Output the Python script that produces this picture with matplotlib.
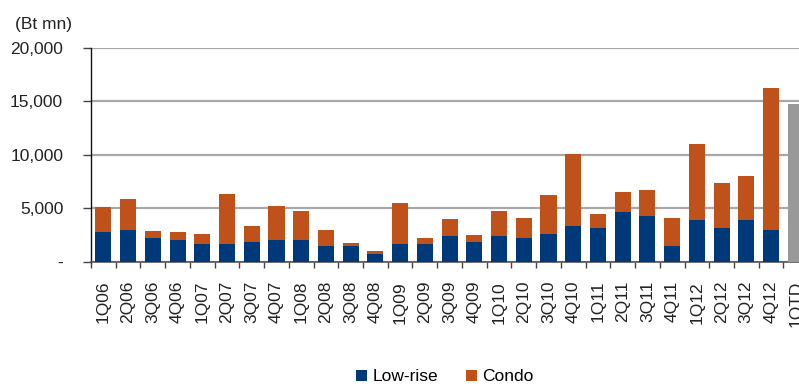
import matplotlib
matplotlib.use("Agg")
import matplotlib.pyplot as plt
from matplotlib.ticker import FuncFormatter, FixedLocator
import numpy as np

plt.rcParams['font.family'] = ['Liberation Sans', 'DejaVu Sans']

quarters = ["1Q06", "2Q06", "3Q06", "4Q06", "1Q07", "2Q07", "3Q07", "4Q07",
            "1Q08", "2Q08", "3Q08", "4Q08", "1Q09", "2Q09", "3Q09", "4Q09",
            "1Q10", "2Q10", "3Q10", "4Q10", "1Q11", "2Q11", "3Q11", "4Q11",
            "1Q12", "2Q12", "3Q12", "4Q12"]
lowrise = [2770, 2960, 2210, 2030, 1650, 1650, 1840, 2030,
           2030, 1470, 1470, 720, 1650, 1650, 2400, 1840,
           2400, 2210, 2590, 3340, 3150, 4650, 4270, 1470,
           3900, 3150, 3900, 2960]
condo = [2310, 2870, 660, 740, 910, 4680, 1460, 3150,
         2710, 1490, 240, 280, 3840, 560, 1590, 650,
         2340, 1870, 3640, 6730, 1310, 1870, 2430, 2610,
         7100, 4210, 4110, 13280]
qtd_label = ["1QTD"]
qtd_total = [14750]

BLUE = "#00397A"
ORANGE = "#BF521A"
GRAY = "#999999"

fig = plt.figure(figsize=(7.99, 3.86), dpi=100)
ax = fig.add_axes([91 / 799, 1 - 261.5 / 386, 708 / 799, 213.8 / 386])

x = np.arange(len(quarters))
w = 0.65
ax.bar(x, lowrise, width=w, color=BLUE, label="Low-rise", zorder=3)
ax.bar(x, condo, width=w, bottom=lowrise, color=ORANGE, label="Condo", zorder=3)
xq = np.arange(len(quarters), len(quarters) + len(qtd_total))
ax.bar(xq, qtd_total, width=w, color=GRAY, zorder=3)

labels = quarters + qtd_label
ax.set_xlim(-0.5, -0.5 + 708 / 24.73)
ax.set_ylim(0, 20000)

ax.set_xticks(np.arange(len(labels)))
ax.set_xticklabels(labels, rotation=90, fontsize=12.5, color="#222222")
ax.tick_params(axis="x", which="major", length=0, pad=14)
ax.xaxis.set_minor_locator(FixedLocator(np.arange(len(labels)) - 0.5))
ax.tick_params(axis="x", which="minor", length=4, width=1, color="#444444", direction="out")

ax.set_yticks([0, 5000, 10000, 15000, 20000])
ax.yaxis.set_major_formatter(FuncFormatter(lambda v, p: "-" if v == 0 else f"{int(v):,}"))
ax.tick_params(axis="y", length=6, width=1, color="#444444", pad=14, labelsize=12.5,
               labelcolor="#222222")
ax.grid(axis="y", color="#A8A8A8", linewidth=1.6, zorder=0)

for s in ["top", "right"]:
    ax.spines[s].set_visible(False)
ax.spines["left"].set_color("#111111")
ax.spines["bottom"].set_color("#555555")
ax.spines["left"].set_linewidth(1)
ax.spines["bottom"].set_linewidth(1.2)

fig.text(15 / 799, 1 - 25 / 386, "(Bt mn)", fontsize=12.5, color="#222222",
         ha="left", va="center")

ax.legend(loc="center", bbox_to_anchor=(0.5, -0.54), ncol=2, frameon=False,
          fontsize=12.5, handlelength=0.65, handleheight=0.65, handletextpad=0.3,
          columnspacing=1.6, borderaxespad=0)

fig.savefig("out.png", dpi=100)
